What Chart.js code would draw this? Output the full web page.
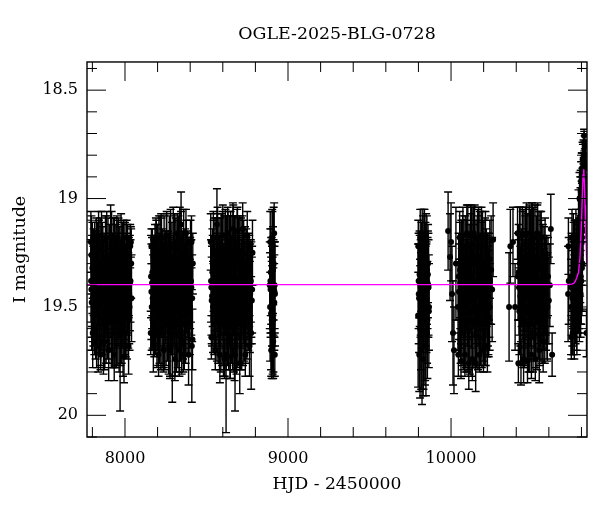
<!DOCTYPE html>
<html>
<head>
<meta charset="utf-8">
<script src="https://cdn.jsdelivr.net/npm/chart.js@4/dist/chart.umd.min.js"></script>
<style>
html, body { margin: 0; padding: 0; background: #fff; }
canvas { display: block; }
</style>
</head>
<body>
<canvas id="lightCurve" width="600" height="512"></canvas>
<script>
// Values, one group per observing season
const hjdS1 = [7792,7796,7800,7804,7808,7812,7816,7820,7824,7828,7832,7836,7840,7844,7848,7852,7856,7860,7864,7868,
  7872,7876,7880,7884,7888,7892,7896,7900,7904,7908,7912,7916,7920,7924,7928,7932,7936,7940,7944,7948,
  7952,7956,7960,7964,7968,7972,7976,7980,7984,7988,7992,7996,8000,8004,8008,8012,8016,8020,8024,8028,8034,8040,
  7791,7794,7802,7814,7826,7838,7850,7862,7874,7886,7900,7918,7934,7950,7970,7982,7994,8010,8022,8032,8036,8038];
const magS1 = [19.38,19.48,19.32,19.46,19.34,19.5,19.33,19.5,19.31,19.52,19.3,19.54,19.34,19.5,19.29,19.55,19.33,19.48,19.31,19.58,
  19.36,19.52,19.3,19.56,19.34,19.5,19.28,19.57,19.33,19.5,19.3,19.54,19.36,19.56,19.29,19.5,19.33,19.58,19.31,19.52,
  19.35,19.55,19.29,19.5,19.32,19.57,19.34,19.52,19.3,19.55,19.33,19.5,19.31,19.48,19.35,19.52,19.33,19.47,19.36,19.5,19.38,19.46,
  19.2,19.26,19.62,19.19,19.68,19.17,19.72,19.2,19.66,19.18,19.7,19.17,19.72,19.18,19.62,19.2,19.73,19.18,19.68,19.22,19.2,19.3];
const errS1 = [.19,.22,.21,.2,.2,.22,.18,.24,.22,.2,.19,.26,.24,.21,.2,.22,.27,.24,.18,.23,
  .2,.26,.22,.2,.28,.24,.19,.27,.21,.2,.27,.24,.18,.22,.2,.28,.24,.2,.19,.26,
  .25,.22,.2,.3,.19,.2,.27,.24,.19,.27,.23,.22,.2,.25,.19,.22,.21,.22,.18,.2,.19,.2,
  .14,.18,.16,.08,.1,.11,.07,.09,.13,.1,.06,.11,.12,.1,.36,.09,.12,.08,.13,.1,.07,.16];

const hjdS2 = [8160,8164,8168,8172,8176,8180,8184,8188,8192,8196,8200,8204,8208,8212,8216,8220,8224,8228,8232,8236,
  8240,8244,8248,8252,8256,8260,8264,8268,8272,8276,8280,8284,8288,8292,8296,8300,8304,8308,8312,8316,
  8320,8324,8328,8332,8336,8340,8344,8348,8352,8356,8360,8364,8368,8372,8376,8380,8384,8388,8392,8398,8405,8412,
  8158,8162,8174,8190,8206,8222,8238,8254,8276,8290,8306,8322,8334,8344,8358,8374,8390,8402,8414,8416,8410,8408];
const magS2 = [19.36,19.5,19.34,19.48,19.36,19.5,19.32,19.52,19.35,19.54,19.31,19.5,19.3,19.56,19.34,19.52,19.29,19.55,19.33,19.5,
  19.31,19.58,19.35,19.5,19.3,19.55,19.33,19.52,19.28,19.57,19.32,19.5,19.3,19.55,19.27,19.52,19.33,19.58,19.29,19.5,
  19.31,19.56,19.28,19.52,19.3,19.55,19.26,19.54,19.33,19.5,19.3,19.58,19.34,19.5,19.32,19.52,19.34,19.48,19.36,19.5,19.38,19.46,
  19.62,19.22,19.68,19.18,19.72,19.18,19.7,19.17,19.7,19.62,19.74,19.16,19.7,19.12,19.72,19.16,19.72,19.2,19.65,19.3,19.68,19.2];
const errS2 = [.19,.2,.2,.22,.18,.23,.2,.2,.25,.24,.19,.27,.22,.2,.26,.27,.2,.23,.19,.3,
  .23,.21,.2,.27,.24,.2,.18,.29,.2,.25,.27,.22,.19,.27,.23,.2,.26,.24,.2,.3,
  .21,.22,.2,.28,.26,.2,.2,.27,.18,.24,.25,.21,.2,.26,.22,.2,.19,.24,.18,.22,.19,.2,
  .1,.08,.12,.09,.1,.11,.08,.1,.13,.32,.1,.09,.12,.15,.08,.11,.14,.1,.14,.14,.26,.12];

const hjdS3 = [8528,8532,8536,8540,8544,8548,8552,8556,8560,8564,8568,8572,8576,8580,8584,8588,8592,8596,8600,8604,
  8608,8612,8616,8620,8624,8628,8632,8636,8640,8644,8648,8652,8656,8660,8664,8668,8672,8676,8680,8684,
  8688,8692,8696,8700,8704,8708,8712,8716,8720,8724,8728,8732,8736,8740,8744,8748,8752,8756,8760,8766,8772,8778,8780,
  8526,8530,8542,8554,8566,8564,8582,8598,8610,8620,8630,8646,8662,8672,8675,8690,8704,8722,8738,8750,8764,8774,8782];
const magS3 = [19.38,19.47,19.34,19.5,19.31,19.52,19.33,19.48,19.29,19.55,19.3,19.5,19.28,19.56,19.33,19.52,19.27,19.55,19.3,19.58,
  19.26,19.52,19.31,19.57,19.28,19.5,19.3,19.59,19.25,19.55,19.3,19.52,19.27,19.57,19.3,19.5,19.28,19.56,19.26,19.53,
  19.3,19.58,19.28,19.5,19.3,19.55,19.27,19.52,19.32,19.57,19.3,19.5,19.34,19.54,19.33,19.5,19.35,19.48,19.36,19.5,19.38,19.47,19.42,
  19.2,19.64,19.18,19.7,19.18,19.12,19.72,19.17,19.74,19.72,19.16,19.73,19.14,19.7,19.72,19.15,19.76,19.14,19.72,19.17,19.68,19.62,19.25];
const errS3 = [.19,.2,.2,.21,.21,.2,.24,.23,.2,.2,.26,.26,.19,.23,.24,.28,.2,.22,.27,.24,
  .18,.3,.26,.22,.2,.27,.24,.2,.17,.28,.24,.24,.19,.22,.27,.3,.2,.23,.18,.28,
  .25,.2,.19,.26,.22,.24,.18,.27,.24,.2,.2,.25,.21,.22,.19,.24,.18,.22,.2,.21,.19,.2,.2,
  .13,.1,.12,.09,.11,.165,.13,.11,.09,.36,.12,.1,.12,.14,.26,.11,.14,.12,.1,.11,.14,.26,.15];

const hjdS4 = [8888,8890,8892,8894,8896,8898,8900,8902,8904,8906,8908,8910,8912,8914,8916,8918,8920,8891,8897,8903,8909,8915,8919];
const magS4 = [19.4,19.5,19.38,19.34,19.53,19.4,19.56,19.45,19.3,19.54,19.33,19.56,19.3,19.42,19.48,19.4,19.44,19.2,19.7,19.18,19.66,19.16,19.72];
const errS4 = [.2,.25,.24,.2,.26,.22,.27,.23,.24,.27,.2,.24,.26,.22,.22,.2,.24,.14,.12,.13,.17,.14,.1];

const hjdS5 = [9798,9801,9804,9807,9810,9813,9816,9819,9822,9825,9828,9831,9834,9837,9840,9843,9846,9849,9852,9855,9858,9861,9864,
  9799,9805,9811,9817,9823,9829,9835,9841,9847,9853,9859,9865];
const magS5 = [19.54,19.38,19.46,19.35,19.6,19.4,19.52,19.33,19.62,19.42,19.33,19.58,19.38,19.2,19.56,19.33,19.62,19.46,19.33,19.56,19.35,19.4,19.52,
  19.22,19.72,19.18,19.7,19.16,19.74,19.17,19.68,19.2,19.62,19.3,19.5];
const errS5 = [.33,.22,.25,.2,.32,.24,.27,.22,.33,.24,.25,.3,.2,.15,.3,.22,.29,.25,.25,.27,.2,.24,.26,
  .12,.17,.13,.18,.11,.17,.12,.16,.13,.14,.18,.2];

const hjdS6 = [9982,9994,10000,10006,10012,10018,10030,10043,10047,10051,10055,10059,10063,10067,10071,10075,10079,10083,10087,10091,
  10095,10099,10103,10107,10111,10115,10119,10123,10127,10129,10133,10137,10141,10145,10149,10153,10157,10161,10165,10169,
  10173,10177,10181,10185,10189,10193,10197,10201,10205,10209,10213,10217,10221,10225,10229,10233,10237,10239,10246,10252,10258,
  10045,10053,10061,10073,10085,10097,10109,10121,10131,10139,10151,10163,10175,10187,10199,10211,10223,10231,10238];
const magS6 = [19.15,19.27,19.2,19.44,19.62,19.7,19.3,19.5,19.36,19.5,19.33,19.52,19.3,19.55,19.34,19.52,19.28,19.56,19.32,19.5,
  19.3,19.58,19.28,19.53,19.31,19.57,19.27,19.52,19.3,19.25,19.56,19.3,19.5,19.28,19.58,19.3,19.52,19.27,19.55,19.31,
  19.56,19.28,19.5,19.3,19.58,19.32,19.52,19.3,19.55,19.33,19.5,19.34,19.52,19.35,19.48,19.36,19.5,19.38,19.33,19.42,19.19,
  19.72,19.18,19.75,19.17,19.72,19.16,19.76,19.17,19.74,19.16,19.76,19.18,19.72,19.17,19.7,19.18,19.68,19.55];
const errS6 = [.18,.2,.18,.22,.24,.2,.26,.2,.2,.22,.22,.24,.2,.22,.26,.27,.18,.24,.24,.28,
  .2,.22,.25,.26,.19,.24,.2,.3,.26,.21,.22,.18,.28,.25,.2,.2,.26,.19,.24,.27,
  .22,.22,.27,.19,.2,.26,.23,.2,.22,.24,.27,.2,.21,.19,.24,.2,.2,.2,.25,.24,.17,
  .1,.12,.08,.13,.1,.13,.12,.14,.1,.12,.13,.13,.08,.13,.1,.12,.12,.18];

const hjdS7 = [10356,10364,10380,10393,10411,10415,10419,10423,10427,10431,10435,10439,10443,10447,10451,10455,10459,10463,10467,10471,
  10475,10479,10483,10487,10491,10495,10499,10503,10507,10511,10515,10519,10523,10527,10531,10535,10539,10543,10547,10551,
  10555,10559,10563,10567,10571,10575,10579,10583,10587,10589,10595,10600,10606,10612,10620,
  10408,10413,10421,10429,10437,10445,10457,10469,10481,10493,10505,10517,10529,10541,10553,10565,10577,10591];
const magS7 = [19.28,19.5,19.22,19.2,19.5,19.36,19.34,19.52,19.3,19.55,19.33,19.5,19.28,19.56,19.32,19.52,19.27,19.57,19.3,19.5,
  19.26,19.58,19.3,19.53,19.27,19.55,19.3,19.2,19.58,19.28,19.54,19.3,19.52,19.27,19.56,19.3,19.5,19.28,19.57,19.32,
  19.53,19.3,19.52,19.34,19.5,19.33,19.52,19.36,19.48,19.36,19.5,19.36,19.47,19.4,19.14,
  19.72,19.16,19.76,19.17,19.76,19.16,19.74,19.17,19.75,19.16,19.72,19.18,19.74,19.16,19.7,19.18,19.66,19.25];
const errS7 = [.18,.25,.17,.16,.2,.2,.22,.2,.26,.22,.19,.26,.22,.22,.27,.26,.19,.2,.28,.24,
  .19,.22,.26,.27,.22,.2,.28,.18,.22,.24,.2,.27,.26,.19,.23,.28,.24,.22,.2,.26,
  .22,.2,.24,.22,.2,.2,.24,.18,.22,.19,.24,.18,.2,.19,.16,
  .1,.12,.09,.13,.1,.12,.11,.13,.1,.13,.11,.13,.1,.13,.15,.12,.14,.16];

const hjdS8 = [10718,10722,10736,10740,10744,10748,10752,10756,10760,10764,10768,10772,10776,10780,10784,10787,10790,10793,10795,10797,
  10799,10801,10803,10805,10806,10808,10810,10812,10814,10816,10818,10820,10822,10825,10828,10831,
  10720,10738,10742,10746,10750,10754,10758,10762,10766,10770,10774,10778,10782,10785,10788,10791,10794,10796,10798,10800,10802,10804,10807,10809,
  10792,10795,10798,10801,10803,10806,10809,10811,10813,10815,10817,10819,10821,10823,10824,10826,10827,10829,10830,10832];
const magS8 = [19.5,19.44,19.38,19.5,19.36,19.46,19.4,19.33,19.5,19.37,19.45,19.3,19.5,19.36,19.42,19.32,19.46,19.36,19.28,19.44,
  19.3,19.38,19.2,19.32,19.14,19.3,19.05,19.15,18.94,18.9,18.71,18.84,18.76,18.9,18.86,18.98,
  19.62,19.22,19.64,19.18,19.62,19.2,19.62,19.3,19.4,19.18,19.6,19.25,19.42,19.1,19.4,19.0,19.44,19.08,19.36,18.98,19.1,18.88,19.18,18.82,
  19.08,19.0,18.96,18.92,19.02,18.86,18.95,18.82,19.05,18.8,18.92,18.74,19.0,18.84,18.94,19.05,18.8,18.9,19.08,19.0];
const errS8 = [.25,.22,.2,.22,.2,.22,.2,.22,.24,.2,.22,.2,.22,.2,.2,.2,.2,.22,.2,.2,
  .22,.2,.2,.22,.17,.22,.13,.15,.1,.09,.03,.06,.05,.06,.05,.06,
  .11,.13,.1,.13,.1,.13,.1,.2,.2,.13,.1,.15,.2,.14,.2,.12,.18,.13,.22,.11,.2,.09,.2,.08,
  .12,.1,.09,.09,.1,.07,.09,.07,.1,.07,.08,.05,.09,.07,.08,.1,.06,.08,.1,.08];

// Extra observations packed into the middle of each season
const hjdCore = [7794,7798,7806,7810,7818,7822,7830,7834,7842,7846,7854,7858,7866,7870,7878,7882,7890,7894,7902,7906,
  7914,7922,7926,7930,7938,7942,7946,7954,7958,7962,7966,7974,7978,7986,7990,7998,8002,8006,8014,8018,8026,8030,
  8162,8166,8170,8178,8182,8186,8194,8198,8202,8210,8214,8218,8226,8230,8234,8242,8246,8250,8258,8262,8266,8270,8274,8278,
  8282,8286,8294,8298,8302,8310,8314,8318,8326,8330,8338,8342,8346,8350,8354,8362,8366,8370,8378,8382,8386,8394,8400,8407,
  8530,8534,8538,8546,8550,8558,8562,8570,8574,8578,8586,8590,8594,8602,8606,8614,8618,8622,8626,8634,8638,8642,8650,8654,
  8658,8666,8670,8674,8678,8682,8686,8694,8698,8702,8710,8714,8718,8726,8730,8734,8742,8746,8754,8758,8762,8768,8775,
  8893,8899,8905,8911,8917,9802,9808,9814,9820,9826,9832,9838,9844,9850,9856,9862,
  10049,10057,10065,10069,10077,10081,10089,10093,10101,10105,10113,10117,10125,10135,10143,10147,10155,10159,10167,10171,
  10179,10183,10191,10195,10203,10207,10215,10219,10227,10235,
  10417,10425,10433,10441,10449,10453,10461,10465,10473,10477,10485,10489,10497,10501,10509,10513,10521,10525,10533,10537,
  10545,10549,10557,10561,10569,10573,10581,10585,10739,10747,10755,10763,10771,10779,10786,10792];
const magCore = [19.42,19.38,19.45,19.4,19.43,19.37,19.46,19.41,19.39,19.44,19.42,19.47,19.38,19.41,19.45,19.39,19.43,19.4,19.46,19.37,
  19.42,19.44,19.39,19.41,19.46,19.38,19.43,19.4,19.45,19.37,19.42,19.44,19.39,19.46,19.41,19.38,19.43,19.45,19.4,19.42,19.44,19.39,
  19.43,19.39,19.46,19.41,19.38,19.44,19.42,19.47,19.4,19.37,19.45,19.41,19.43,19.39,19.46,19.38,19.42,19.44,19.4,19.45,19.37,19.43,19.41,19.46,
  19.39,19.42,19.44,19.38,19.45,19.41,19.43,19.37,19.46,19.4,19.42,19.39,19.44,19.41,19.45,19.38,19.43,19.46,19.4,19.37,19.42,19.44,19.39,19.41,
  19.41,19.45,19.38,19.43,19.4,19.46,19.37,19.42,19.44,19.39,19.45,19.41,19.38,19.43,19.46,19.4,19.42,19.37,19.44,19.41,19.39,19.45,19.43,19.38,
  19.46,19.4,19.42,19.44,19.37,19.41,19.45,19.39,19.43,19.38,19.46,19.41,19.4,19.44,19.37,19.42,19.45,19.39,19.43,19.41,19.38,19.44,19.42,
  19.42,19.39,19.45,19.41,19.43,19.44,19.38,19.41,19.46,19.4,19.43,19.37,19.45,19.42,19.39,19.41,
  19.43,19.39,19.46,19.41,19.38,19.44,19.42,19.4,19.45,19.37,19.43,19.41,19.46,19.39,19.42,19.44,19.38,19.41,19.45,19.4,
  19.43,19.37,19.46,19.42,19.39,19.44,19.41,19.38,19.45,19.42,
  19.41,19.45,19.38,19.43,19.4,19.46,19.37,19.42,19.44,19.39,19.45,19.41,19.38,19.43,19.46,19.4,19.42,19.37,19.44,19.41,
  19.39,19.45,19.43,19.38,19.46,19.4,19.42,19.44,19.41,19.38,19.42,19.4,19.36,19.33,19.3,19.25];
const errCore = [.22,.21,.23,.22,.21,.22,.23,.22,.21,.23,.22,.23,.21,.22,.23,.22,.21,.22,.23,.21,
  .22,.23,.21,.22,.23,.21,.22,.22,.23,.21,.22,.23,.21,.23,.22,.21,.22,.23,.22,.21,.23,.22,
  .22,.21,.23,.22,.21,.23,.22,.23,.22,.21,.23,.22,.21,.22,.23,.21,.22,.23,.22,.23,.21,.22,.21,.23,
  .21,.22,.23,.21,.23,.22,.21,.21,.23,.22,.21,.22,.23,.22,.23,.21,.22,.23,.22,.21,.22,.23,.21,.22,
  .22,.23,.21,.22,.21,.23,.21,.22,.23,.21,.23,.22,.21,.22,.23,.22,.21,.21,.23,.22,.21,.23,.22,.21,
  .23,.22,.21,.23,.21,.22,.23,.21,.22,.21,.23,.22,.21,.23,.21,.22,.23,.21,.22,.21,.21,.23,.22,
  .22,.21,.23,.22,.21,.23,.21,.22,.23,.21,.22,.21,.23,.22,.21,.22,
  .22,.21,.23,.22,.21,.23,.22,.21,.23,.21,.22,.21,.23,.21,.22,.23,.21,.22,.23,.21,
  .22,.21,.23,.22,.21,.23,.22,.21,.23,.22,
  .22,.23,.21,.22,.21,.23,.21,.22,.23,.21,.23,.22,.21,.22,.23,.22,.21,.21,.23,.22,
  .21,.23,.22,.21,.23,.22,.21,.23,.22,.21,.22,.21,.22,.21,.21,.2];

const hjd = [...hjdCore, ...hjdS1, ...hjdS2, ...hjdS3, ...hjdS4, ...hjdS5, ...hjdS6, ...hjdS7, ...hjdS8];
const mag = [...magCore, ...magS1, ...magS2, ...magS3, ...magS4, ...magS5, ...magS6, ...magS7, ...magS8];
const magErr = [...errCore, ...errS1, ...errS2, ...errS3, ...errS4, ...errS5, ...errS6, ...errS7, ...errS8];

// Microlensing model curve
const modelHjd = [7767, 10700, 10742, 10755, 10763, 10771, 10782, 10791, 10797, 10801, 10806, 10810, 10814, 10818, 10822, 10827, 10832, 10834];
const modelMag = [19.397, 19.397, 19.395, 19.39, 19.38, 19.365, 19.34, 19.27, 19.17, 19.09, 18.97, 18.89, 18.865, 18.93, 19.03, 19.17, 19.29, 19.31];

const xTicks = [7800, 8000, 8200, 8400, 8600, 8800, 9000, 9200, 9400, 9600, 9800, 10000, 10200, 10400, 10600, 10800];
const xLabelled = [8000, 9000, 10000];
const yTicks = [18.4, 18.5, 18.6, 18.7, 18.8, 18.9, 19, 19.1, 19.2, 19.3, 19.4, 19.5, 19.6, 19.7, 19.8, 19.9, 20, 20.1];
const yLabelled = [18.5, 19, 19.5, 20];

const serif = '"DejaVu Serif", serif';

// Error bars with caps, drawn under the points
const errorBars = {
    id: 'errorBars',
    beforeDatasetsDraw(chart) {
        const { ctx, chartArea: area, scales: { x, y } } = chart;
        ctx.save();
        ctx.beginPath();
        ctx.rect(area.left, area.top, area.width, area.height);
        ctx.clip();
        ctx.strokeStyle = '#000';
        ctx.lineWidth = 1.4;
        hjd.forEach((h, i) => {
            const px = x.getPixelForValue(h);
            const top = y.getPixelForValue(mag[i] - magErr[i]);
            const bottom = y.getPixelForValue(mag[i] + magErr[i]);
            ctx.beginPath();
            ctx.moveTo(px, top);
            ctx.lineTo(px, bottom);
            ctx.moveTo(px - 4, top);
            ctx.lineTo(px + 4, top);
            ctx.moveTo(px - 4, bottom);
            ctx.lineTo(px + 4, bottom);
            ctx.stroke();
        });
        ctx.restore();
    }
};

// Box with inward ticks on all four sides
const frameTicks = {
    id: 'frameTicks',
    afterDraw(chart) {
        const { ctx, chartArea: a, scales: { x, y } } = chart;
        ctx.save();
        ctx.strokeStyle = '#000';
        ctx.lineWidth = 1;
        ctx.beginPath();
        xTicks.forEach(v => {
            const px = x.getPixelForValue(v);
            const len = xLabelled.includes(v) ? 19 : 10;
            ctx.moveTo(px, a.bottom); ctx.lineTo(px, a.bottom - len);
            ctx.moveTo(px, a.top); ctx.lineTo(px, a.top + len);
        });
        yTicks.forEach(v => {
            const py = y.getPixelForValue(v);
            const len = yLabelled.includes(v) ? 19 : 10;
            ctx.moveTo(a.left, py); ctx.lineTo(a.left + len, py);
            ctx.moveTo(a.right, py); ctx.lineTo(a.right - len, py);
        });
        ctx.stroke();
        ctx.lineWidth = 1.4;
        ctx.strokeRect(a.left, a.top, a.width, a.height);
        ctx.restore();
    }
};

new Chart(document.getElementById('lightCurve'), {
    type: 'scatter',
    data: {
        datasets: [{
            label: 'OGLE',
            data: hjd.map((h, i) => ({ x: h, y: mag[i] })),
            pointRadius: 3,
            pointBackgroundColor: '#000',
            pointBorderWidth: 0,
            order: 2
        }, {
            label: 'model',
            data: modelHjd.map((h, i) => ({ x: h, y: modelMag[i] })),
            showLine: true,
            pointRadius: 0,
            borderColor: '#ff00ff',
            borderWidth: 1.4,
            order: 1
        }]
    },
    options: {
        responsive: false,
        animation: false,
        devicePixelRatio: 1,
        layout: { padding: { top: 0, right: 13, bottom: 0, left: 0 } },
        plugins: {
            legend: { display: false },
            tooltip: { enabled: false },
            title: {
                display: true,
                text: 'OGLE-2025-BLG-0728',
                color: '#000',
                fullSize: false,
                font: { family: serif, size: 17.4, weight: 'normal' },
                padding: { top: 24, bottom: 17.1 }
            }
        },
        scales: {
            x: {
                type: 'linear',
                min: 7767,
                max: 10834,
                afterBuildTicks: axis => { axis.ticks = xLabelled.map(v => ({ value: v })); },
                afterFit: axis => { axis.height = 75; },
                grid: { display: false, drawTicks: false },
                border: { display: false },
                ticks: {
                    color: '#000', padding: 12, maxRotation: 0, autoSkip: false,
                    font: { family: serif, size: 16 },
                    callback: v => String(v)
                },
                title: {
                    display: true,
                    text: 'HJD - 2450000',
                    color: '#000',
                    font: { family: serif, size: 17.2 },
                    padding: { top: 0, bottom: 17 }
                }
            },
            y: {
                reverse: true,
                min: 18.37,
                max: 20.1,
                afterBuildTicks: axis => { axis.ticks = yLabelled.map(v => ({ value: v })); },
                afterFit: axis => { axis.width = 87; },
                grid: { display: false, drawTicks: false },
                border: { display: false },
                ticks: {
                    color: '#000', padding: 9, autoSkip: false,
                    font: { family: serif, size: 16 },
                    callback: v => String(v)
                },
                title: {
                    display: true,
                    text: 'I magnitude',
                    color: '#000',
                    font: { family: serif, size: 17.5 },
                    padding: { top: 10, bottom: 0 }
                }
            }
        }
    },
    plugins: [errorBars, frameTicks]
});
</script>
</body>
</html>
